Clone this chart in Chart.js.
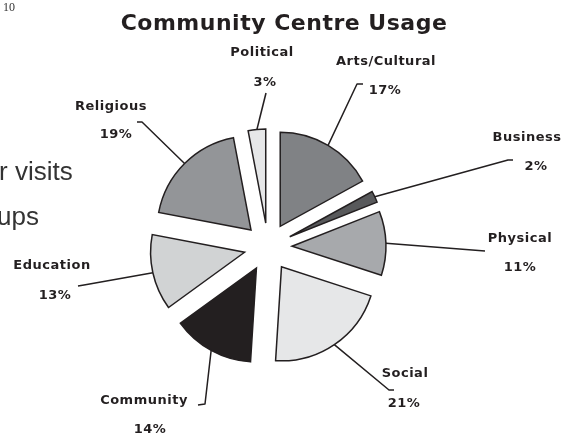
<!DOCTYPE html>
<html>
<head>
<meta charset="utf-8">
<title>Community Centre Usage</title>
<script src="https://cdn.jsdelivr.net/npm/chart.js@4.4.1/dist/chart.umd.min.js"></script>
<style>
  html, body { margin: 0; padding: 0; background: #fff; }
  canvas { display: block; }
</style>
</head>
<body>
<canvas id="myChart" width="562" height="437"></canvas>
<script>
// Values (percent of usage)
const categories = ["Arts/Cultural", "Business", "Physical", "Social", "Community", "Education", "Religious", "Political"];
const usage = [17, 2, 11, 21, 14, 13, 19, 3];
const sliceColors = ["#808285", "#58595b", "#a7a9ac", "#e6e7e8", "#231f20", "#d1d3d4", "#939598", "#e6e7e8"];

// Label placement, relative to the pie centre (px).
// name / pct = text centres, leader = points after the slice edge
const labelLayout = [
  { name: [118, -185], pct: [117, -156], leader: [[89, -163], [95, -163]] },
  { name: [259, -109], pct: [268, -80], leader: [[240, -87], [245, -87]] },
  { name: [252, -8], pct: [252, 21], leader: [[217, 4]] },
  { name: [137, 127], pct: [136, 157], leader: [[121, 143], [126, 143]] },
  { name: [-124, 154], pct: [-118, 183], leader: [[-63, 157], [-70, 158]] },
  { name: [-216, 19], pct: [-213, 49], leader: [[-184, 38], [-190, 39]] },
  { name: [-157, -140], pct: [-152, -112], leader: [[-126, -125], [-131, -125]] },
  { name: [-6, -194], pct: [-3, -164], leader: [[-2, -154]] },
];

const ink = "#231f20";
const explode = 24; // every slice pulled out by the same distance

function pieCentre(chart) {
  const a = chart.chartArea;
  return { x: (a.left + a.right) / 2, y: (a.top + a.bottom) / 2 };
}

// Move every slice straight out along its middle angle
const explodePlugin = {
  id: "explode",
  beforeDatasetsDraw(chart) {
    const c = pieCentre(chart);
    chart.getDatasetMeta(0).data.forEach(arc => {
      const mid = (arc.startAngle + arc.endAngle) / 2;
      arc.x = c.x + Math.cos(mid) * explode;
      arc.y = c.y + Math.sin(mid) * explode;
    });
  }
};

// Title, the slide text behind the chart, labels and leader lines
const labelPlugin = {
  id: "labels",
  beforeDraw(chart) {
    const ctx = chart.ctx;
    ctx.save();
    ctx.fillStyle = "#333";
    ctx.font = "12px 'Liberation Serif'";
    ctx.textBaseline = "alphabetic";
    ctx.fillText("10", 3, 11);
    ctx.font = "26px 'Liberation Sans'";
    ctx.fillText("r visits", -1, 180);
    ctx.fillText("ups", -3, 225);
    ctx.restore();
  },
  afterDatasetsDraw(chart) {
    const ctx = chart.ctx;
    const c = pieCentre(chart);
    const arcs = chart.getDatasetMeta(0).data;

    ctx.save();
    ctx.strokeStyle = ink;
    ctx.lineWidth = 1.5;
    ctx.lineJoin = "round";
    arcs.forEach((arc, i) => {
      const mid = (arc.startAngle + arc.endAngle) / 2;
      ctx.beginPath();
      ctx.moveTo(arc.x + Math.cos(mid) * arc.outerRadius, arc.y + Math.sin(mid) * arc.outerRadius);
      labelLayout[i].leader.forEach(p => ctx.lineTo(c.x + p[0], c.y + p[1]));
      ctx.stroke();
    });

    ctx.fillStyle = ink;
    ctx.textAlign = "center";
    ctx.textBaseline = "middle";
    ctx.font = "bold 13px 'DejaVu Sans'";
    ctx.letterSpacing = "0.5px";
    categories.forEach((name, i) => {
      const l = labelLayout[i];
      ctx.fillText(name, c.x + l.name[0], c.y + l.name[1]);
      ctx.fillText(usage[i] + "%", c.x + l.pct[0], c.y + l.pct[1]);
    });

    ctx.font = "bold 22px 'DejaVu Sans'";
    ctx.textBaseline = "alphabetic";
    ctx.fillText("Community Centre Usage", 284, 30);
    ctx.restore();
  }
};

const ctx = document.getElementById("myChart").getContext("2d");
const chart = new Chart(ctx, {
  type: "pie",
  data: {
    labels: categories,
    datasets: [
      {
        data: usage,
        backgroundColor: sliceColors,
        borderColor: ink,
        borderWidth: 1.5,
        borderJoinStyle: "miter",
      },
    ],
  },
  options: {
    responsive: false,
    animation: false,
    radius: 94,
    layout: { padding: { left: 0, right: 26, top: 57, bottom: 0 } },
    plugins: {
      legend: { display: false },
      tooltip: { enabled: false },
      title: { display: false },
    },
  },
  plugins: [explodePlugin, labelPlugin],
});
</script>
</body>
</html>
